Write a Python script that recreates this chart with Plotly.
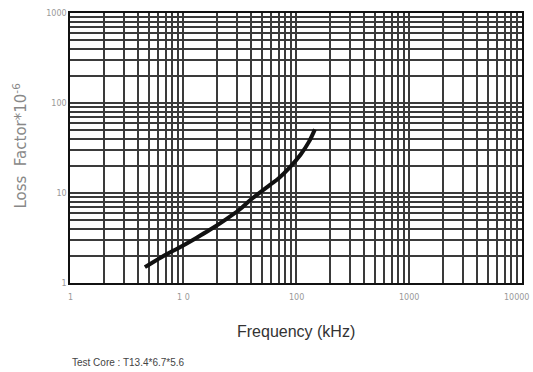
import math
import plotly.graph_objects as go

freq = [4.6, 6.5, 9.4, 13, 17.3, 24, 31.9, 39.2, 58.9, 70, 88.5, 110, 130, 147]
loss = [1.5, 1.95, 2.5, 3.15, 3.9, 5.1, 6.6, 8.3, 12.3, 14.5, 19.4, 26.8, 37, 51]

x_tickvals = [1, 10, 100, 1000, 10000]
x_ticktext = ["1", "1 0", "100", "1000", "10000"]
y_tickvals = [1, 10, 100, 1000]
y_ticktext = ["1", "10", "100", "1000"]

fig = go.Figure()
fig.add_trace(go.Scatter(x=freq, y=loss, mode="lines",
                         line=dict(color="#111", width=4, shape="spline", smoothing=1.0),
                         showlegend=False))

grid = dict(showgrid=True, gridcolor="#3a3a3a", gridwidth=1.6,
            minor=dict(showgrid=True, gridcolor="#3a3a3a", gridwidth=1.6, dtick="D1", ticks=""),
            showline=True, linecolor="#111", linewidth=1.6, mirror=True,
            ticks="", zeroline=False, automargin=False,
            tickfont=dict(family="DejaVu Sans", size=8, color="#999"))

fig.update_xaxes(type="log", range=[0, 4], tickvals=x_tickvals, ticktext=x_ticktext,
                 showticklabels=False, **grid)
fig.update_yaxes(type="log", range=[0, 3], tickvals=y_tickvals, ticktext=y_ticktext, **grid)

for i, (v, t) in enumerate(zip(x_tickvals, x_ticktext)):
    last = i == len(x_tickvals) - 1
    fig.add_annotation(text=t, xref="x", yref="paper", x=math.log10(v), y=0,
                       yshift=-14, xshift=-6 if last else 0,
                       xanchor="center", yanchor="middle", showarrow=False,
                       font=dict(family="DejaVu Sans", size=8, color="#999"))

fig.add_annotation(text="Loss  Factor*10<sup>-6</sup>", xref="paper", yref="paper",
                   x=-0.11, y=0.51, xanchor="center", yanchor="middle", showarrow=False,
                   textangle=-90, font=dict(family="DejaVu Sans", size=15, color="#888"))
fig.add_annotation(text="Frequency (kHz)", xref="paper", yref="paper",
                   x=0.50, y=-0.18, xanchor="center", yanchor="middle", showarrow=False,
                   font=dict(family="Liberation Sans", size=16, color="#333"))
fig.add_annotation(text="Test Core : T13.4*6.7*5.6", xref="paper", yref="paper",
                   x=0.0, y=-0.295, xanchor="left", yanchor="middle", showarrow=False,
                   font=dict(family="Liberation Sans", size=10, color="#444"))

fig.update_layout(width=533, height=372, margin=dict(l=70, r=11, t=13, b=89),
                  paper_bgcolor="white", plot_bgcolor="white")
fig.write_html("out.html")
